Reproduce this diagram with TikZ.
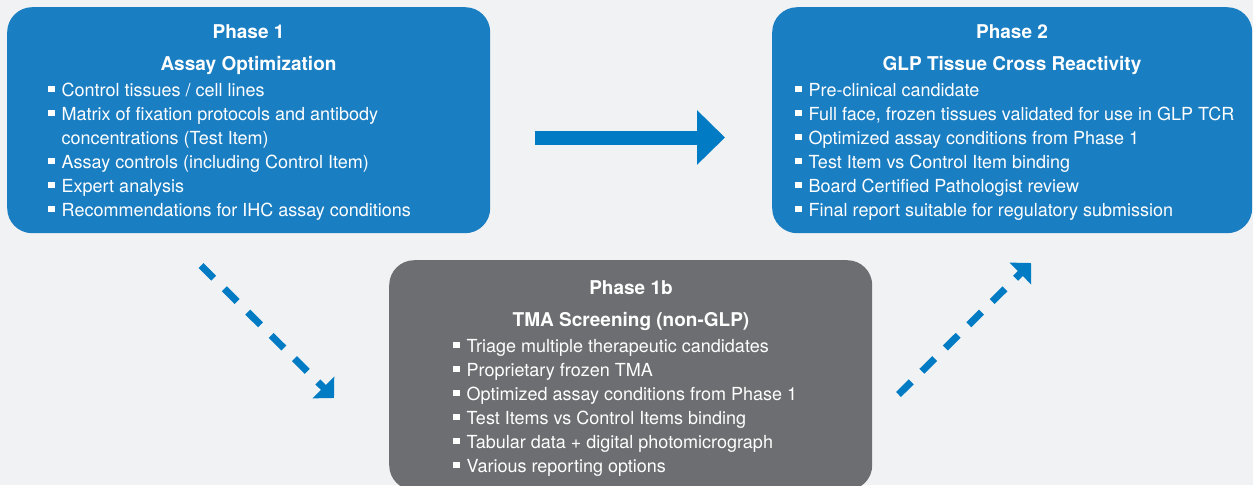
\documentclass[tikz,border=0pt]{standalone}
\usepackage{fontspec}
\setmainfont{TeX Gyre Heros}
\usetikzlibrary{arrows.meta}
\definecolor{bg}{RGB}{241,242,244}
\definecolor{boxblue}{RGB}{26,126,194}
\definecolor{boxgray}{RGB}{109,110,113}
\definecolor{arrowblue}{RGB}{0,123,196}
\newcommand\bul{\makebox[13.5pt][l]{\raisebox{4.7pt}{\rule{6.5pt}{6.2pt}}}}
\newcommand\ind{\hspace*{13.5pt}}
\begin{document}
\begin{tikzpicture}[x=1pt,y=-1pt,
  phasebox/.style={rounded corners=25pt, draw=none, anchor=north west, inner sep=0pt, minimum width=483pt},
  titletext/.style={font=\fontsize{19}{24}\selectfont\bfseries, text=white, anchor=base, inner sep=0pt},
  itemlist/.style={font=\fontsize{18}{24}\selectfont, text=white, anchor=base west, align=left, inner sep=0pt},
  solidarrow/.style={arrowblue, line width=14pt, -{Triangle[length=28pt,width=53pt]}},
  dasharrow/.style={arrowblue, line width=7pt, dash pattern=on 18pt off 15pt, -{Triangle[length=15pt,width=30pt]}}]
\clip (0,0) rectangle (1253,485);
\fill[bg] (0,0) rectangle (1253,485);
% boxes
\node[phasebox, fill=boxblue, minimum height=226pt] (p1) at (7,7) {};
\node[phasebox, fill=boxblue, minimum height=226pt, minimum width=480pt] (p2) at (772,7) {};
\node[phasebox, fill=boxgray, minimum height=230pt] (p3) at (389,260) {};
% phase 1 (list anchored at the baseline of its last line)
\node[titletext] (p1a) at (248.5,38) {Phase 1};
\node[titletext] (p1b) at (248.5,70) {Assay Optimization};
\node[itemlist] (p1l) at (48,216.5) {\bul Control tissues / cell lines\\
\bul Matrix of fixation protocols and antibody\\
\ind concentrations (Test Item)\\
\bul Assay controls (including Control Item)\\
\bul Expert analysis\\
\bul Recommendations for IHC assay conditions};
% phase 2
\node[titletext] (p2a) at (1012,38) {Phase 2};
\node[titletext] (p2b) at (1012,70) {GLP Tissue Cross Reactivity};
\node[itemlist] (p2l) at (795,216.5) {\bul Pre-clinical candidate\\
\bul Full face, frozen tissues validated for use in GLP TCR\\
\bul Optimized assay conditions from Phase 1\\
\bul Test Item vs Control Item binding\\
\bul Board Certified Pathologist review\\
\bul Final report suitable for regulatory submission};
% phase 1b
\node[titletext] (p3a) at (631,294) {Phase 1b};
\node[titletext] (p3b) at (631,326) {TMA Screening (non-GLP)};
\node[itemlist] (p3l) at (453,472.5) {\bul Triage multiple therapeutic candidates\\
\bul Proprietary frozen TMA\\
\bul Optimized assay conditions from Phase 1\\
\bul Test Items vs Control Items binding\\
\bul Tabular data + digital photomicrograph\\
\bul Various reporting options};
% arrows
\coordinate (a1s) at (535,137.5);
\coordinate (a1e) at (725,137.5);
\draw[solidarrow] (a1s) -- (a1e);
\coordinate (d1s) at (201,265.5);
\coordinate (d1e) at (334,398);
\draw[dasharrow] (d1s) -- (d1e);
\coordinate (d2s) at (898.5,394.5);
\coordinate (d2e) at (1031,263);
\draw[dasharrow] (d2s) -- (d2e);
\end{tikzpicture}
\end{document}
